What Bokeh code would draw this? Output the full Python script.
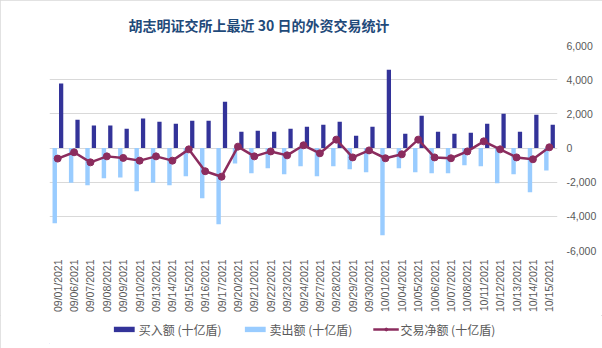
from bokeh.plotting import figure
from bokeh.layouts import column
from bokeh.models import (FactorRange, LinearAxis, FixedTicker, NumeralTickFormatter,
                          Legend, LegendItem, ColumnDataSource, Title)
from bokeh.transform import dodge
from bokeh.embed import file_html
from bokeh.resources import INLINE
import math

dates = ["09/01/2021", "09/06/2021", "09/07/2021", "09/08/2021", "09/09/2021",
         "09/10/2021", "09/13/2021", "09/14/2021", "09/15/2021", "09/16/2021",
         "09/17/2021", "09/20/2021", "09/21/2021", "09/22/2021", "09/23/2021",
         "09/24/2021", "09/27/2021", "09/28/2021", "09/29/2021", "09/30/2021",
         "10/01/2021", "10/04/2021", "10/05/2021", "10/06/2021", "10/07/2021",
         "10/08/2021", "10/11/2021", "10/12/2021", "10/13/2021", "10/14/2021",
         "10/15/2021"]

buy = [3780, 1660, 1310, 1310, 1130, 1720, 1540, 1420, 1600, 1600,
       2710, 955, 1010, 955, 1130, 1250, 1360, 1540, 720, 1250,
       4580, 840, 1890, 955, 840, 900, 1420, 2010, 955, 1950, 1360]
sell = [-4400, -2030, -2180, -1770, -1720, -2530, -2030, -2180, -1660, -2940,
        -4460, -900, -1480, -1190, -1540, -1070, -1660, -1070, -1250, -1420,
        -5100, -1190, -1420, -1480, -1480, -1010, -1070, -2070, -1540, -2590, -1310]
net = [-620, -250, -840, -490, -580, -740, -490, -740, -80, -1360,
       -1680, 80, -490, -200, -430, 160, -310, 490, -550, -140,
       -600, -370, 490, -550, -600, -200, 390, -80, -550, -660, 40]

y_ticks = [-6000, -4000, -2000, 0, 2000, 4000, 6000]

title_text = "胡志明证交所上最近 30 日的外资交易统计"
labels = ["买入额 (十亿盾)", "卖出额 (十亿盾)", "交易净额 (十亿盾)"]

BUY_C, SELL_C, NET_C = "#333399", "#99CCFF", "#8B2C5E"
CJK = "Noto Sans CJK SC"
grey = "#595959"

src = ColumnDataSource(dict(date=dates, buy=buy, sell=sell, net=net))

p = figure(frame_width=508, frame_height=205, output_backend="svg", toolbar_location=None,
           x_range=FactorRange(factors=dates), y_range=(-6000, 6000),
           y_axis_location=None, min_border_left=49, min_border_right=45,
           min_border_top=45, min_border_bottom=61)
p.outline_line_color = None

p.title = Title(text=title_text, align="left", offset=79,
                text_font=CJK, text_font_size="14px",
                text_font_style="bold", text_color="#1F4A7A", standoff=22)

p.xgrid.grid_line_color = None
p.ygrid.ticker = FixedTicker(ticks=y_ticks)
p.ygrid.grid_line_color = "#d9d9d9"
p.ygrid.grid_line_width = 1

xa = p.xaxis[0]
xa.axis_line_color = None
xa.major_tick_line_color = None
xa.minor_tick_line_color = None
xa.major_label_orientation = math.pi / 2
xa.major_label_text_font = "Liberation Sans"
xa.major_label_text_font_size = "10.5px"
xa.major_label_text_color = grey
xa.major_label_standoff = 3

ya = LinearAxis(ticker=FixedTicker(ticks=y_ticks),
                formatter=NumeralTickFormatter(format="0,0"))
ya.axis_line_color = None
ya.major_tick_line_color = None
ya.minor_tick_line_color = None
ya.major_label_text_font = "Liberation Sans"
ya.major_label_text_font_size = "10.5px"
ya.major_label_text_color = grey
ya.major_label_standoff = 3
p.add_layout(ya, "right")

p.vbar(x=dodge("date", -0.18, range=p.x_range), top="sell", bottom=0,
       width=0.27, source=src, fill_color=SELL_C, line_color=None)
p.vbar(x=dodge("date", 0.21, range=p.x_range), top="buy", bottom=0,
       width=0.26, source=src, fill_color=BUY_C, line_color=None)
p.line(x="date", y="net", source=src, line_color=NET_C, line_width=2.5)
p.scatter(x="date", y="net", source=src, size=7, fill_color=NET_C, line_color=NET_C)

# legend strip (separate small figure so the legend is not clipped);
# its key renderers hold one point placed outside the visible range
lf = figure(width=602, height=37, output_backend="svg", toolbar_location=None,
            x_range=(0, 1), y_range=(0, 1), x_axis_location=None, y_axis_location=None,
            min_border=0, min_border_bottom=9)
lf.outline_line_color = None
lf.grid.grid_line_color = None
key = ColumnDataSource(dict(x=[-10], y=[-10], top=[-10]))
l_buy = lf.vbar(x="x", top="top", width=0.1, source=key, fill_color=BUY_C, line_color=None)
l_sell = lf.vbar(x="x", top="top", width=0.1, source=key, fill_color=SELL_C, line_color=None)
l_line = lf.line(x="x", y="y", source=key, line_color=NET_C, line_width=2.5)
l_pts = lf.scatter(x="x", y="y", source=key, size=7, fill_color=NET_C, line_color=NET_C)

legend = Legend(items=[LegendItem(label=labels[0], renderers=[l_buy]),
                       LegendItem(label=labels[1], renderers=[l_sell]),
                       LegendItem(label=labels[2], renderers=[l_line, l_pts])],
                orientation="horizontal", location="center",
                padding=0, margin=0, spacing=20, label_standoff=2,
                glyph_width=26, glyph_height=7, label_height=14,
                label_text_font=CJK, label_text_font_size="12px",
                label_text_color=grey, background_fill_alpha=0,
                border_line_color=None)
lf.add_layout(legend, "center")

layout = column(p, lf, spacing=0)
layout.styles = {"outline": "1px solid #d9d9d9", "outline-offset": "-1px"}

open("out.html", "w").write(file_html(layout, INLINE))
